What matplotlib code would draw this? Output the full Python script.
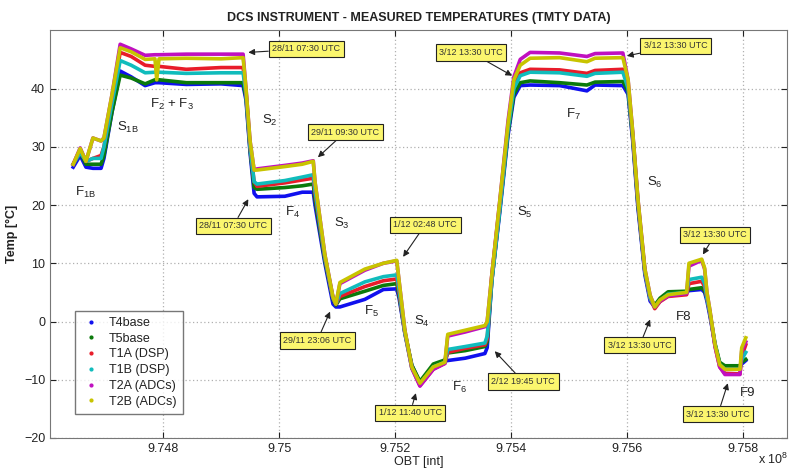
import numpy as np
import matplotlib
matplotlib.use("Agg")
import matplotlib.pyplot as plt
from matplotlib.lines import Line2D
from matplotlib.ticker import FixedLocator, FuncFormatter

plt.rcParams['font.family'] = ['Liberation Sans', 'DejaVu Sans']
plt.rcParams['mathtext.fontset'] = 'custom'
plt.rcParams['mathtext.rm'] = 'Liberation Sans'

# OBT sample positions (x 10^8), shared by all sensors
obt = [9.74645, 9.74657, 9.74667, 9.74679, 9.74693, 9.74698, 9.74712, 9.74726,
       9.74745, 9.74769, 9.74786, 9.74789, 9.74793, 9.74840, 9.74900, 9.74938,
       9.74943, 9.74950, 9.74957, 9.74962, 9.75010, 9.75040, 9.75059, 9.75062,
       9.75079, 9.75093, 9.75098, 9.75105, 9.75148, 9.75180, 9.75203, 9.75207,
       9.75217, 9.75229, 9.75243, 9.75266, 9.75286, 9.75291, 9.75321, 9.75355,
       9.75359, 9.75367, 9.75381, 9.75395, 9.75405, 9.75416, 9.75433, 9.75484,
       9.75531, 9.75545, 9.75593, 9.75602, 9.75610, 9.75619, 9.75631, 9.75640,
       9.75648, 9.75657, 9.75671, 9.75703, 9.75707, 9.75729, 9.75734, 9.75738,
       9.75743, 9.75752, 9.75760, 9.75769, 9.75795, 9.75798, 9.75805]

t4base = [26.5, 28.5, 26.5, 26.3, 26.3, 28.0, 36.0, 43.0,
          42.0, 40.5, 41.0, 41.0, 41.0, 40.7, 40.8, 40.5,
          38.0, 29.0, 22.0, 21.4, 21.5, 22.2, 22.2, 20.0,
          10.0, 3.0, 2.5, 2.5, 3.8, 5.5, 5.6, 4.0,
          -2.0, -7.5, -10.5, -7.8, -6.8, -6.7, -6.3, -5.5,
          -4.5, 7.0, 19.0, 32.0, 38.5, 40.5, 40.6, 40.5,
          39.6, 40.6, 40.5, 39.0, 31.0, 19.5, 8.0, 3.5,
          2.5, 3.5, 4.8, 5.0, 5.3, 5.5, 5.0, 3.5,
          1.0, -4.0, -7.2, -7.8, -7.8, -7.3, -6.7]
t5base = [27.0, 29.0, 27.0, 27.0, 27.0, 28.5, 36.0, 42.3,
          41.8, 40.8, 41.5, 41.5, 41.5, 41.0, 41.0, 41.0,
          38.5, 29.5, 23.0, 22.7, 23.0, 23.3, 23.6, 21.0,
          10.5, 3.8, 2.8, 3.9, 5.2, 6.2, 6.5, 4.5,
          -1.8, -7.5, -10.3, -7.3, -6.6, -5.4, -5.0, -4.3,
          -3.5, 7.0, 19.5, 32.5, 39.0, 41.0, 41.3, 41.0,
          40.6, 41.1, 41.2, 39.5, 31.5, 20.0, 8.5, 4.0,
          2.8, 4.0, 5.1, 5.2, 5.5, 5.8, 5.3, 4.0,
          1.5, -3.8, -7.0, -7.6, -7.6, -7.0, -6.5]
t1a = [27.0, 29.5, 27.5, 28.0, 28.5, 30.0, 38.0, 46.2,
       45.5, 44.0, 43.8, 43.8, 43.8, 43.3, 43.6, 43.6,
       39.5, 30.0, 24.0, 23.2, 23.8, 24.3, 24.6, 22.0,
       11.0, 4.0, 3.0, 4.3, 6.0, 7.0, 7.3, 5.0,
       -2.0, -8.0, -11.0, -8.2, -7.2, -5.3, -4.6, -4.0,
       -3.0, 8.0, 20.5, 33.5, 40.5, 42.7, 43.3, 43.2,
       42.6, 43.1, 43.3, 40.5, 32.0, 20.5, 8.5, 4.0,
       2.2, 3.4, 4.3, 4.6, 6.5, 6.9, 6.0, 4.0,
       1.5, -4.3, -7.8, -8.9, -9.0, -6.0, -4.0]
t1b = [27.0, 29.0, 27.5, 28.0, 28.0, 30.0, 37.5, 44.8,
       44.0, 42.7, 42.8, 42.8, 42.8, 42.6, 42.7, 42.7,
       39.0, 30.0, 24.0, 23.6, 24.2, 24.8, 25.2, 22.5,
       11.0, 4.0, 3.0, 4.8, 6.8, 7.7, 8.0, 5.5,
       -2.0, -8.0, -10.7, -7.8, -7.0, -4.8, -4.3, -3.7,
       -2.5, 7.0, 19.5, 33.0, 40.0, 42.2, 42.8, 42.7,
       42.1, 42.6, 42.8, 40.0, 32.0, 20.5, 8.5, 4.0,
       2.5, 3.6, 4.7, 5.0, 7.2, 7.6, 6.5, 4.0,
       1.5, -4.0, -7.4, -8.2, -8.2, -6.5, -5.3]
t2a = [27.0, 29.8, 27.5, 31.5, 31.0, 31.5, 39.0, 47.6,
       46.8, 45.7, 45.8, 45.8, 45.8, 45.9, 45.9, 45.9,
       40.0, 31.0, 26.0, 26.2, 26.8, 27.2, 27.6, 24.0,
       11.5, 4.2, 3.0, 6.5, 8.8, 10.0, 10.4, 7.0,
       -1.5, -8.0, -11.1, -8.2, -7.2, -2.5, -1.8, -0.9,
       0.0, 8.0, 21.0, 34.5, 42.0, 45.0, 46.2, 46.1,
       45.5, 46.0, 46.1, 41.5, 32.5, 21.0, 9.0, 4.5,
       2.5, 3.5, 4.4, 4.8, 9.5, 10.5, 9.0, 5.0,
       2.0, -4.3, -7.8, -9.1, -9.1, -5.0, -3.5]
t2b = [27.0, 29.7, 27.5, 31.5, 31.0, 31.5, 39.0, 47.0,
       46.3, 45.0, 45.1, 41.5, 45.1, 45.2, 45.1, 45.3,
       40.0, 31.0, 26.0, 26.0, 26.6, 27.0, 27.5, 24.0,
       11.5, 4.2, 3.0, 6.7, 9.0, 10.0, 10.5, 7.0,
       -1.5, -7.8, -10.6, -7.8, -7.0, -2.2, -1.5, -0.7,
       0.0, 8.0, 21.0, 34.0, 41.5, 44.0, 45.2, 45.3,
       44.6, 45.2, 45.3, 41.5, 32.5, 21.0, 9.0, 4.5,
       2.5, 3.7, 4.6, 5.0, 10.0, 10.7, 9.2, 5.0,
       2.0, -4.0, -7.4, -8.2, -8.2, -4.5, -2.8]

series_names = ['T4base', 'T5base', 'T1A (DSP)', 'T1B (DSP)', 'T2A (ADCs)', 'T2B (ADCs)']
series_vals = [t4base, t5base, t1a, t1b, t2a, t2b]
colors = ['#1010ee', '#0b7a0b', '#e81c2a', '#10bcbc', '#c010c0', '#c8c400']

x_ticks = [9.748, 9.75, 9.752, 9.754, 9.756, 9.758]
y_ticks = [-20, -10, 0, 10, 20, 30, 40]

# annotation boxes: (text, box position, arrow tip)
notes = [
    ('28/11 07:30 UTC', (9.75047, 46.8), (9.74947, 46.2)),
    ('29/11 09:30 UTC', (9.75114, 32.5), (9.75067, 28.2)),
    ('28/11 07:30 UTC', (9.74921, 16.4), (9.74947, 21.0)),
    ('1/12 02:48 UTC', (9.75252, 16.6), (9.75214, 11.1)),
    ('29/11 23:06 UTC', (9.75066, -3.25), (9.75088, 1.7)),
    ('1/12 11:40 UTC', (9.75226, -15.7), (9.75236, -12.3)),
    ('2/12 19:45 UTC', (9.75421, -10.3), (9.75372, -5.1)),
    ('3/12 13:30 UTC', (9.75331, 46.2), (9.75402, 42.2)),
    ('3/12 13:30 UTC', (9.75684, 47.35), (9.75600, 45.6)),
    ('3/12 13:30 UTC', (9.75752, 14.9), (9.75731, 11.5)),
    ('3/12 13:30 UTC', (9.75622, -4.1), (9.75640, 0.34)),
    ('3/12 13:30 UTC', (9.75757, -15.9), (9.75774, -10.6)),
]

# phase labels
phases = [
    (r'F$_\mathrm{1B}$', 9.74666, 22.2), (r'S$_\mathrm{1B}$', 9.74740, 33.3),
    (r'F$_\mathrm{2}$ + F$_\mathrm{3}$', 9.74816, 37.3), (r'S$_\mathrm{2}$', 9.74984, 34.5),
    (r'F$_\mathrm{4}$', 9.75024, 18.8), (r'S$_\mathrm{3}$', 9.75109, 16.8),
    (r'F$_\mathrm{5}$', 9.75160, 1.7), (r'S$_\mathrm{4}$', 9.75247, 0.0),
    (r'F$_\mathrm{6}$', 9.75312, -11.3), (r'S$_\mathrm{5}$', 9.75424, 18.8),
    (r'F$_\mathrm{7}$', 9.75507, 35.6), (r'S$_\mathrm{6}$', 9.75648, 23.9),
    ('F8', 9.75697, 0.85), ('F9', 9.75809, -12.3),
]

fig = plt.figure(figsize=(7.89, 4.73), dpi=100)
ax = fig.add_axes([0.0634, 0.074, 0.934, 0.862])

for name, vals, c in zip(series_names, series_vals, colors):
    ax.plot(obt, vals, color=c, lw=2.6, solid_joinstyle='round', zorder=3)

ax.set_xlim(9.74605, 9.75876)
ax.set_ylim(-20, 50)
ax.xaxis.set_major_locator(FixedLocator(x_ticks))
ax.xaxis.set_major_formatter(FuncFormatter(lambda v, p: '%g' % round(v, 3)))
ax.set_yticks(y_ticks)
ax.grid(True, color='#b0b0b0', linestyle=(0, (1, 2)), linewidth=0.9)
ax.tick_params(direction='in', top=True, right=True, labelsize=9, colors='#222222',
               length=4)
for sp in ax.spines.values():
    sp.set_color('#777777')

ax.set_title('DCS INSTRUMENT - MEASURED TEMPERATURES (TMTY DATA)', fontsize=9,
             fontweight='bold', color='#222222', pad=7)
ax.set_xlabel('OBT [int]', fontsize=9, color='#222222', labelpad=1)
ax.set_ylabel('Temp [°C]', fontsize=9, fontweight='bold', color='#222222', labelpad=4)
fig.text(0.999, 0.012, r'x 10$^{8}$', ha='right', va='bottom', fontsize=9, color='#222222')

for txt, box, tip in notes:
    ax.annotate(txt, xy=tip, xytext=box, ha='center', va='center', fontsize=6.5,
                color='#333333', zorder=6,
                bbox=dict(boxstyle='square,pad=0.4', fc='#fbf66e', ec='#222222', lw=0.8),
                arrowprops=dict(arrowstyle='-|>', color='#222222', lw=0.8,
                                mutation_scale=9, shrinkA=0, shrinkB=0))

for txt, x, y in phases:
    ax.text(x, y, txt, ha='center', va='center', fontsize=9.5, color='#222222', zorder=5)

handles = [Line2D([], [], color=c, marker='.', linestyle='none', markersize=4)
           for c in colors]
leg = ax.legend(handles, series_names, loc='lower left', bbox_to_anchor=(0.034, 0.059),
                borderaxespad=0, fontsize=9, frameon=True, fancybox=False,
                handletextpad=0.6, handlelength=1.6, labelspacing=0.3, borderpad=0.5)
leg.get_frame().set_edgecolor('#555555')
leg.get_frame().set_linewidth(1.0)
for t in leg.get_texts():
    t.set_color('#222222')

fig.savefig('out.png', dpi=100)
